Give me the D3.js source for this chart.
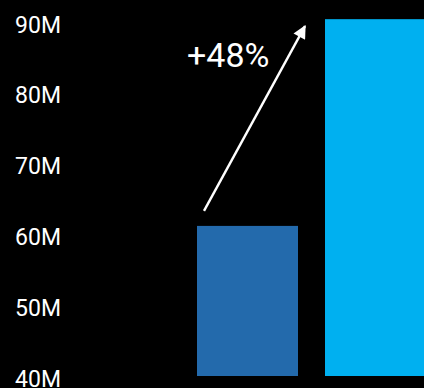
<!DOCTYPE html>
<html>
<head>
<meta charset="utf-8">
<script src="https://cdn.jsdelivr.net/npm/d3@7"></script>
<style>
  html, body { margin: 0; padding: 0; background: #000; }
  svg { display: block; }
</style>
</head>
<body>
<svg id="chart" width="424" height="388"></svg>
<script>
// Audience in millions, before and after
const categories = ["Before", "After"];
const values = [61.2, 90.4];
const colors = ["#236aac", "#00b0f0"];
const tickValues = [40, 50, 60, 70, 80, 90];
const tickLabels = ["40M", "50M", "60M", "70M", "80M", "90M"];

const svg = d3.select("#chart");
const W = 424, H = 388;

svg.append("rect").attr("width", W).attr("height", H).attr("fill", "#000");

const y = d3.scaleLinear().domain([40, 90]).range([376, 22]);
const x = d3.scaleBand().domain(categories).range([197, 426])
  .paddingInner(27 / 128).paddingOuter(0);

// Value axis labels
const axis = d3.axisLeft(y).tickValues(tickValues)
  .tickFormat((d, i) => tickLabels[i]).tickSize(0).tickPadding(0);
const gAxis = svg.append("g").attr("transform", "translate(61,2)").call(axis);
gAxis.select(".domain").remove();
gAxis.selectAll("text")
  .attr("fill", "#fff")
  .attr("font-family", "Roboto, 'DejaVu Sans', sans-serif")
  .attr("font-size", 23)
  .attr("dy", "0.35em");

// Bars
svg.selectAll("rect.bar").data(categories).join("rect")
  .attr("class", "bar")
  .attr("x", d => x(d))
  .attr("width", x.bandwidth())
  .attr("y", (d, i) => y(values[i]))
  .attr("height", (d, i) => y(40) - y(values[i]))
  .attr("fill", (d, i) => colors[i]);

// Growth arrow between the two bars
const defs = svg.append("defs");
defs.append("marker")
  .attr("id", "head")
  .attr("viewBox", "0 0 10 10")
  .attr("refX", 9).attr("refY", 5)
  .attr("markerWidth", 6).attr("markerHeight", 5.5)
  .attr("markerUnits", "strokeWidth")
  .attr("orient", "auto")
  .append("path").attr("d", "M0,0 L10,5 L0,10 Z").attr("fill", "#fff");

const x1 = x(categories[0]) + 7, y1 = y(values[0]) - 15;
const x2 = x(categories[1]) - 20, y2 = y(values[1]) + 7;
svg.append("line")
  .attr("x1", x1).attr("y1", y1)
  .attr("x2", x2).attr("y2", y2)
  .attr("stroke", "#fff").attr("stroke-width", 2.4)
  .attr("marker-end", "url(#head)");

const pct = Math.round((values[1] / values[0] - 1) * 100);
svg.append("text")
  .attr("x", 187).attr("y", 67)
  .attr("fill", "#fff")
  .attr("font-family", "Roboto, 'DejaVu Sans', sans-serif")
  .attr("font-size", 34)
  .text("+" + pct + "%");
</script>
</body>
</html>
